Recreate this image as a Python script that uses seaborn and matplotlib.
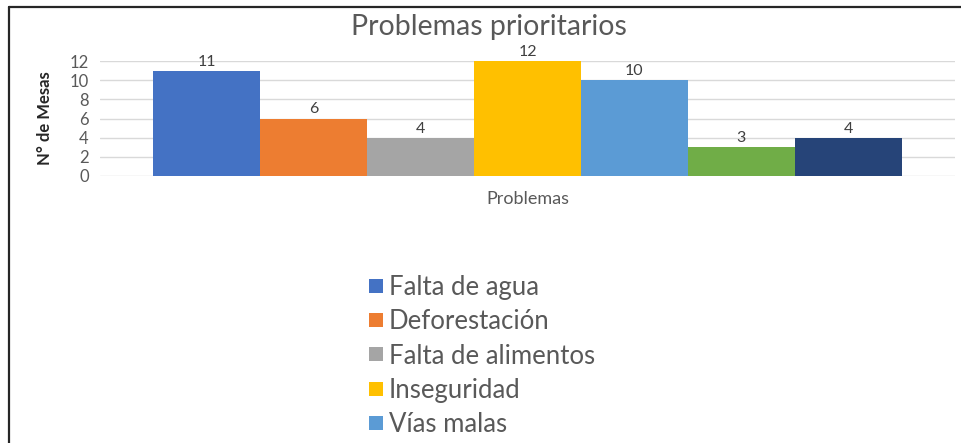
import matplotlib
matplotlib.use("Agg")
import matplotlib.pyplot as plt
from matplotlib.lines import Line2D
import seaborn as sns
import pandas as pd

# Data
problemas = ["Falta de agua", "Deforestación", "Falta de alimentos",
             "Inseguridad", "Vías malas", "Problema 6", "Problema 7"]
mesas = [11, 6, 4, 12, 10, 3, 4]
colores = ["#4472C4", "#ED7D31", "#A5A5A5", "#FFC000", "#5B9BD5", "#70AD47", "#264478"]
categoria = "Problemas"
y_ticks = [0, 2, 4, 6, 8, 10, 12]
titulo = "Problemas prioritarios"
y_titulo = "N° de Mesas"
n_leyenda = 5

sns.set_theme(style="white")
plt.rcParams["font.family"] = ["Lato", "DejaVu Sans"]

W, H = 962, 443
fig = plt.figure(figsize=(W / 100, H / 100), dpi=100)
fig.patch.set_facecolor("white")

ax = fig.add_axes([100 / W, 1 - 176 / H, 855 / W, 115 / H])

df = pd.DataFrame({"Eje": [categoria] * len(problemas),
                   "Problema": problemas,
                   "Mesas": mesas})

sns.barplot(data=df, x="Eje", y="Mesas", hue="Problema", hue_order=problemas,
            palette=colores, saturation=1, width=0.875, dodge=True,
            legend=False, ax=ax, edgecolor="none", linewidth=0)

ax.set_xlim(-0.5, 0.5)
ax.set_ylim(0, 12)
ax.set_yticks(y_ticks)
ax.yaxis.grid(True, color="#D9D9D9", linewidth=1.0)
ax.set_axisbelow(True)
for s in ["top", "right", "left", "bottom"]:
    ax.spines[s].set_visible(False)
ax.tick_params(axis="y", length=0, pad=8, labelsize=12, labelcolor="#595959")
ax.tick_params(axis="x", length=0, pad=10.5, labelsize=13, labelcolor="#595959")
ax.set_xlabel("")
ax.set_ylabel("")

for cont in ax.containers:
    ax.bar_label(cont, fmt="%d", padding=1.5, fontsize=11.5, color="#404040")

fig.text(489 / W, 1 - 35 / H, titulo, ha="center", va="baseline",
         fontsize=20.5, color="#595959")
fig.text(45 / W, 1 - 118 / H, y_titulo, ha="center", va="center",
         rotation=90, fontsize=12, fontweight="bold", color="#262626")

handles = list(ax.containers)[:n_leyenda]
fig.legend(handles, problemas[:n_leyenda], loc="upper left",
           bbox_to_anchor=(369 / W, 1 - 275 / H), bbox_transform=fig.transFigure,
           frameon=False, fontsize=18.5, labelcolor="#595959",
           handlelength=0.55, handleheight=0.45, handletextpad=0.22,
           labelspacing=0.36, borderpad=0, borderaxespad=0)

# Chart frame
fig.add_artist(Line2D([9 / W, 9 / W], [0, 1 - 7 / H], transform=fig.transFigure,
                      color="#262626", linewidth=1.6))
fig.add_artist(Line2D([9 / W, 1], [1 - 7 / H, 1 - 7 / H], transform=fig.transFigure,
                      color="#262626", linewidth=1.6))

fig.savefig("out.png", dpi=100, facecolor="white")
